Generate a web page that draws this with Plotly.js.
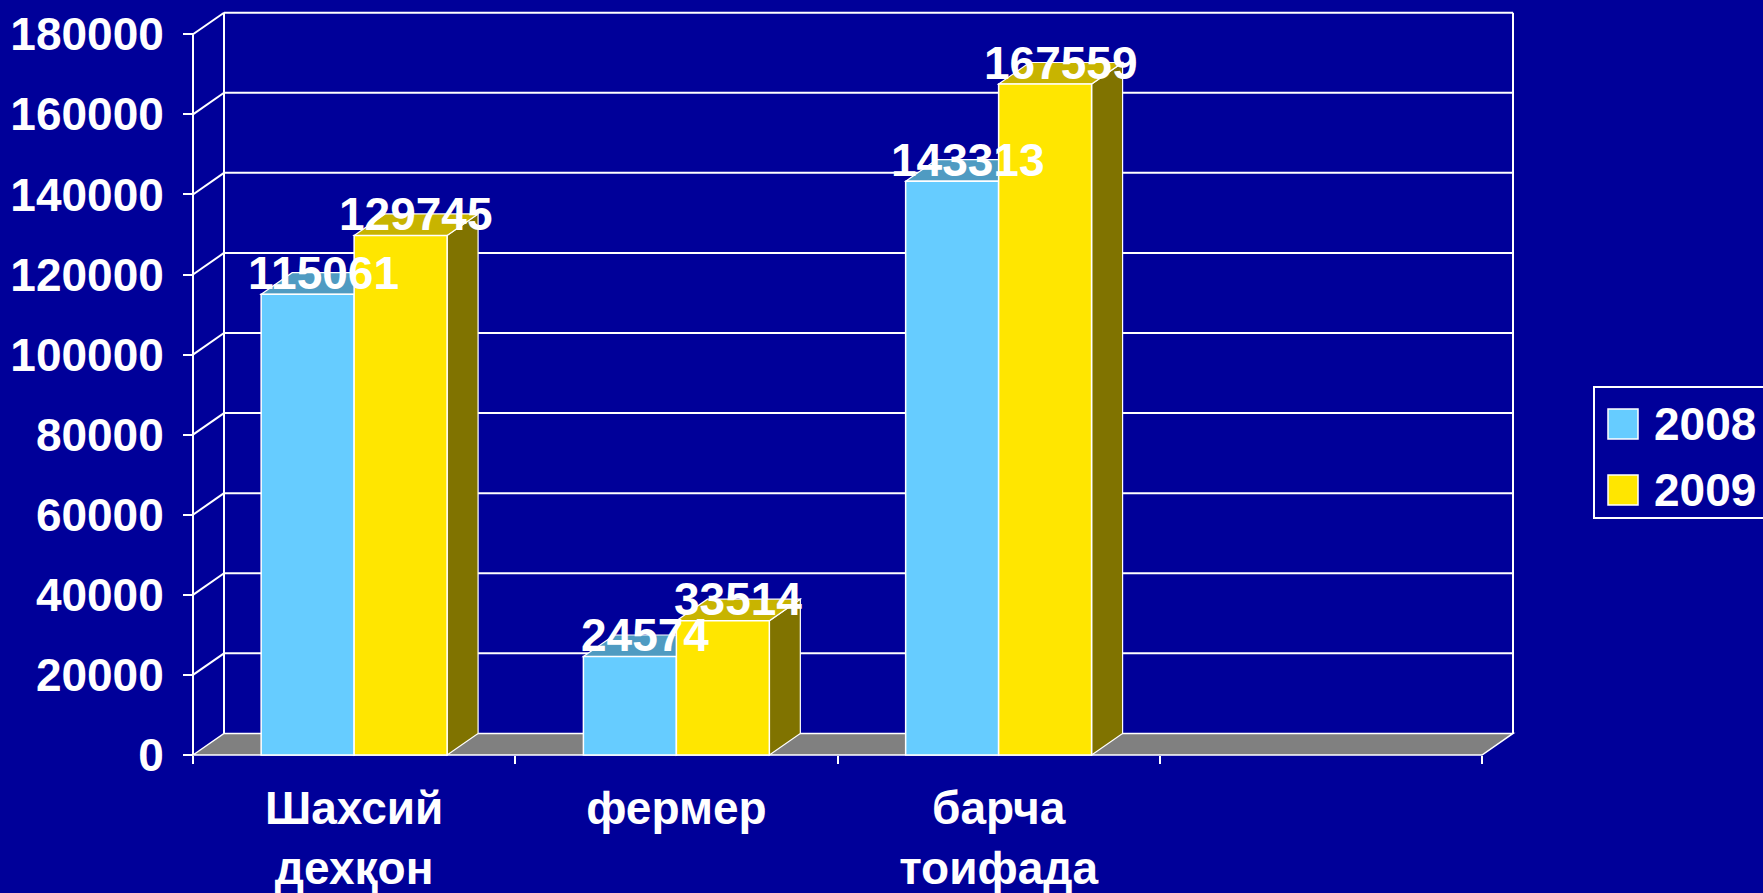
<!DOCTYPE html>
<html><head><meta charset="utf-8">
<script src="https://cdn.plot.ly/plotly-3.0.1.min.js"></script>
<style>html,body{margin:0;padding:0;background:#000099;overflow:hidden}#chart{width:1763px;height:893px;}</style>
</head><body><div id="chart"></div>
<script>
// ---- data ----
const categories = ['Шахсий<br>дехқон', 'фермер', 'барча<br>тоифада', ' '];
const seriesNames = ['2008', '2009'];
const values2008 = [115061, 24574, 143313];
const values2009 = [129745, 33514, 167559];
const yTickVals = [0, 20000, 40000, 60000, 80000, 100000, 120000, 140000, 160000, 180000];
const yTickLabels = ['0', '20000', '40000', '60000', '80000', '100000', '120000', '140000', '160000', '180000'];

// ---- styling / geometry ----
const W = 1763, H = 893;
const L = 183, R = 1520, T = 6, B = 760;      // plot area in px
const X0PX = 193, CATPX = 322.25;             // px of first category boundary, px per category
const Y0PX = 755, PXPERUNIT = 720.7 / 180000; // px of value 0, px per unit
const DXPX = 31, DYPX = 21.6;                 // 3D depth offset
const DX = DXPX / CATPX, DY = DYPX / PXPERUNIT;
const xr = [-0.5 - (X0PX - L) / CATPX, -0.5 + (R - X0PX) / CATPX];
const yr = [-(B - Y0PX) / PXPERUNIT, (Y0PX - T) / PXPERUNIT];
const bargap = 0.423;
const bw = (1 - bargap) / 2;
const colors = ['#66CCFF', '#FFE600'];
const topColors = ['#4F9BC2', '#C8B400'];
const sideColors = ['#3D7A99', '#807300'];
const bg = '#000099';
const FONT = 'Liberation Sans, Arial, sans-serif';
const xp = px => (px - L) / (R - L);
const yp = py => (B - py) / (B - T);

const nCat = categories.length;
const yMax = yTickVals[yTickVals.length - 1];
const series = [values2008, values2009];

const traces = series.map((vals, s) => ({
  type: 'bar',
  name: seriesNames[s],
  x: categories.slice(0, vals.length),
  y: vals,
  marker: {color: colors[s], line: {color: 'white', width: 1.5}},
  showlegend: false,
  hoverinfo: 'x+y+name'
}));

const shapes = [];
const lineW = {color: 'white', width: 2};
// floor
const xl = -0.5, xrgt = nCat - 0.5;
shapes.push({type: 'path', xref: 'x', yref: 'y', layer: 'below',
  path: `M${xl},0 L${xl + DX},${DY} L${xrgt + DX},${DY} L${xrgt},0 Z`,
  fillcolor: '#808080', line: {color: 'white', width: 1.5}});
// left wall lines and back wall gridlines
yTickVals.forEach(v => {
  if (v > 0) {
    shapes.push({type: 'line', xref: 'x', yref: 'y', layer: 'below',
      x0: xl, y0: v, x1: xl + DX, y1: v + DY, line: lineW});
    shapes.push({type: 'line', xref: 'x', yref: 'y', layer: 'below',
      x0: xl + DX, y0: v + DY, x1: xrgt + DX, y1: v + DY, line: lineW});
  }
});
shapes.push({type: 'line', xref: 'x', yref: 'y', layer: 'below',
  x0: xl, y0: 0, x1: xl, y1: yMax, line: lineW});
shapes.push({type: 'line', xref: 'x', yref: 'y', layer: 'below',
  x0: xl + DX, y0: DY, x1: xl + DX, y1: yMax + DY, line: lineW});
shapes.push({type: 'line', xref: 'x', yref: 'y', layer: 'below',
  x0: xrgt + DX, y0: DY, x1: xrgt + DX, y1: yMax + DY, line: lineW});

// bar 3D faces
const annotations = [];
series.forEach((vals, s) => {
  vals.forEach((v, i) => {
    const c = i + (s === 0 ? -bw / 2 : bw / 2);
    const x0 = c - bw / 2, x1 = c + bw / 2;
    shapes.push({type: 'path', xref: 'x', yref: 'y', layer: 'below',
      path: `M${x1},0 L${x1 + DX},${DY} L${x1 + DX},${v + DY} L${x1},${v} Z`,
      fillcolor: sideColors[s], line: {color: 'white', width: 1.2}});
    shapes.push({type: 'path', xref: 'x', yref: 'y', layer: 'below',
      path: `M${x0},${v} L${x0 + DX},${v + DY} L${x1 + DX},${v + DY} L${x1},${v} Z`,
      fillcolor: topColors[s], line: {color: 'white', width: 1.2}});
    annotations.push({xref: 'x', yref: 'y', x: c + DX / 2, y: v + DY,
      text: String(v), showarrow: false, xanchor: 'center', yanchor: 'middle',
      font: {family: FONT, size: 46, color: 'white', weight: 'bold'}});
  });
});

// legend (custom, large swatches)
shapes.push({type: 'rect', xref: 'paper', yref: 'paper', layer: 'above',
  x0: xp(1594), x1: xp(1775), y0: yp(518), y1: yp(387),
  line: {color: 'white', width: 2}, fillcolor: 'rgba(0,0,0,0)'});
const legRows = [424, 490];
seriesNames.forEach((nm, s) => {
  const cy = legRows[s];
  shapes.push({type: 'rect', xref: 'paper', yref: 'paper', layer: 'above',
    x0: xp(1608), x1: xp(1638), y0: yp(cy + 15), y1: yp(cy - 15),
    fillcolor: colors[s], line: {color: 'white', width: 1.5}});
  annotations.push({xref: 'paper', yref: 'paper', x: xp(1652), y: yp(cy),
    xanchor: 'left', yanchor: 'middle', text: nm, showarrow: false,
    font: {family: FONT, size: 46, color: 'white', weight: 'bold'}});
});

const layout = {
  width: W, height: H,
  margin: {l: L, r: W - R, t: T, b: H - B, pad: 0},
  paper_bgcolor: bg, plot_bgcolor: bg,
  barmode: 'group', bargap: bargap, bargroupgap: 0,
  showlegend: false,
  font: {family: FONT, color: 'white'},
  xaxis: {
    type: 'category', categoryorder: 'array', categoryarray: categories,
    range: xr, tickson: 'boundaries', ticks: 'outside', ticklen: 8, tickwidth: 2,
    tickcolor: 'white', showgrid: false, zeroline: false, showline: false,
    anchor: 'free', position: (B - Y0PX) / (B - T), ticklabelstandoff: 22,
    tickfont: {family: FONT, size: 46, color: 'white', weight: 'bold'}
  },
  yaxis: {
    range: yr, tickvals: yTickVals, ticktext: yTickLabels, ticks: 'outside', ticklen: 10, tickwidth: 2,
    tickcolor: 'white', showgrid: false, zeroline: false, showline: false,
    anchor: 'free', position: (X0PX - L) / (R - L), ticklabelstandoff: 10,
    tickfont: {family: FONT, size: 46, color: 'white', weight: 'bold'}
  },
  shapes: shapes,
  annotations: annotations
};

Plotly.newPlot('chart', traces, layout, {displayModeBar: false, staticPlot: true});
</script>
</body></html>
